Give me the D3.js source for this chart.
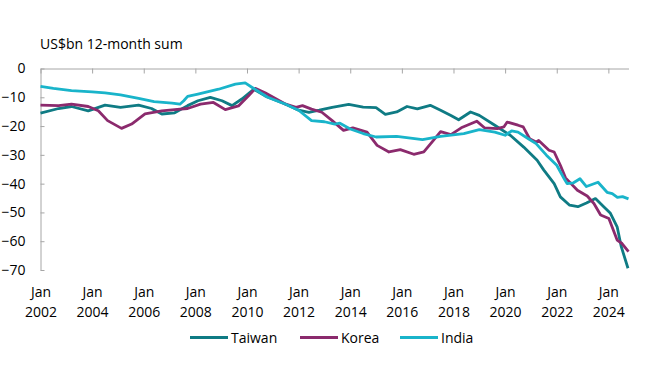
<!DOCTYPE html>
<html>
<head>
<meta charset="utf-8">
<script src="https://cdn.jsdelivr.net/npm/d3@7"></script>
<style>
  body { margin: 0; background: #fff; }
  svg { display: block; font-family: "Open Sans", sans-serif; }
</style>
</head>
<body>
<div id="trade-balance"></div>
<script>
// [decimal year, US$bn 12-month sum]
const taiwan = [
  [2002.0, -15.5], [2002.7, -13.9], [2003.2, -13.2], [2003.85, -14.7], [2004.5, -12.7],
  [2005.1, -13.5], [2005.8, -12.7], [2006.3, -13.9], [2006.7, -15.8], [2007.2, -15.4],
  [2007.7, -12.9], [2008.1, -11.2], [2008.58, -10.0], [2009.03, -11.2], [2009.42, -12.9],
  [2009.8, -10.6], [2010.26, -7.2], [2010.7, -9.5], [2011.5, -12.4], [2012.0, -14.5],
  [2012.4, -15.2], [2012.8, -14.5], [2013.3, -13.5], [2013.94, -12.5], [2014.5, -13.4],
  [2015.0, -13.6], [2015.36, -15.9], [2015.8, -15.1], [2016.2, -13.2], [2016.6, -14.0],
  [2017.1, -12.8], [2017.5, -14.5], [2017.9, -16.3], [2018.2, -17.8], [2018.66, -15.1],
  [2019.0, -16.3], [2019.6, -19.7], [2020.2, -23.2], [2020.72, -27.3], [2021.24, -31.9],
  [2021.5, -35.3], [2021.9, -40.0], [2022.14, -44.6], [2022.5, -47.5], [2022.82, -48.0],
  [2023.15, -46.7], [2023.5, -45.2], [2023.82, -48.0], [2024.08, -50.3], [2024.34, -55.0],
  [2024.5, -61.9], [2024.76, -69.4]
];
const korea = [
  [2002.0, -12.7], [2002.7, -12.9], [2003.2, -12.4], [2003.85, -13.2], [2004.24, -14.7],
  [2004.6, -18.1], [2005.14, -20.8], [2005.53, -19.3], [2006.05, -15.8], [2006.7, -14.7],
  [2007.2, -14.3], [2007.7, -13.9], [2008.2, -12.4], [2008.7, -11.8], [2009.16, -14.3],
  [2009.67, -13.0], [2010.06, -9.5], [2010.32, -6.9], [2010.7, -8.4], [2011.5, -12.4],
  [2011.9, -13.5], [2012.15, -12.9], [2012.5, -14.1], [2012.9, -15.2], [2013.3, -18.1],
  [2013.74, -21.5], [2014.1, -20.6], [2014.65, -22.1], [2015.04, -26.7], [2015.5, -29.0],
  [2015.94, -28.2], [2016.46, -29.8], [2016.85, -29.0], [2017.23, -24.9], [2017.5, -21.9],
  [2017.9, -23.0], [2018.3, -20.6], [2018.9, -18.3], [2019.2, -20.6], [2019.7, -20.9],
  [2019.95, -20.3], [2020.08, -18.6], [2020.5, -19.7], [2020.7, -20.3], [2020.95, -24.4],
  [2021.2, -25.5], [2021.3, -25.0], [2021.7, -28.4], [2021.9, -29.0], [2022.14, -33.6],
  [2022.34, -38.0], [2022.8, -42.3], [2023.18, -44.3], [2023.44, -46.9], [2023.7, -50.9],
  [2024.02, -52.1], [2024.34, -59.6], [2024.53, -60.8], [2024.78, -63.6]
];
const india = [
  [2002.0, -6.2], [2002.5, -6.9], [2003.2, -7.7], [2004.0, -8.1], [2004.5, -8.5],
  [2005.1, -9.2], [2005.8, -10.4], [2006.4, -11.5], [2007.1, -12.0], [2007.4, -12.4],
  [2007.55, -11.2], [2007.7, -9.7], [2008.1, -8.9], [2008.9, -7.2], [2009.55, -5.4],
  [2009.93, -5.0], [2010.2, -6.6], [2010.8, -10.0], [2011.5, -12.4], [2012.0, -14.5],
  [2012.5, -18.1], [2013.0, -18.5], [2013.4, -19.3], [2013.6, -19.0], [2014.0, -21.0],
  [2014.5, -22.6], [2015.0, -23.8], [2015.8, -23.6], [2016.8, -24.7], [2017.5, -23.6],
  [2018.4, -22.6], [2019.0, -21.2], [2019.6, -22.1], [2020.0, -23.2], [2020.25, -21.7],
  [2020.5, -22.1], [2020.9, -24.4], [2021.2, -26.1], [2021.6, -30.1], [2022.0, -33.6],
  [2022.3, -38.5], [2022.4, -40.0], [2022.65, -39.7], [2022.9, -38.3], [2023.15, -41.0],
  [2023.6, -39.5], [2023.95, -43.0], [2024.15, -43.5], [2024.35, -44.8], [2024.55, -44.5],
  [2024.78, -45.3]
];

const seriesNames = ["Taiwan", "Korea", "India"];
const seriesColors = ["#0f7b84", "#8b2a6d", "#19b4ca"];
const yTicks = [0, -10, -20, -30, -40, -50, -60, -70];
const xTicks = [2002, 2004, 2006, 2008, 2010, 2012, 2014, 2016, 2018, 2020, 2022, 2024];
const yLabel = "US$bn 12-month sum";

const width = 655;
const height = 373;
const marginLeft = 40.5;
const marginRight = 26.5;
const marginTop = 68.5;
const marginBottom = 103;

const x = d3.scaleLinear([2002, 2024.78], [marginLeft, width - marginRight]);
const y = d3.scaleLinear([0, -70], [marginTop, height - marginBottom]);

const svg = d3.select("div#trade-balance")
  .append("svg")
  .attr("width", width)
  .attr("height", height)
  .attr("viewBox", [0, 0, width, height]);

// y axis: labels on the left, small ticks pointing into the plot
svg.append("g")
  .attr("transform", `translate(${marginLeft},0)`)
  .call(d3.axisLeft(y).tickValues(yTicks).tickSize(-4).tickSizeOuter(0).tickPadding(15))
  .call(g => g.select(".domain").attr("stroke", "#a6a6a6"))
  .call(g => g.selectAll(".tick line").attr("stroke", "#a6a6a6"))
  .call(g => g.selectAll(".tick text")
    .attr("font-family", "Open Sans, sans-serif")
    .attr("font-size", 14)
    .attr("fill", "#000"));

// x axis sits on the zero line, labels pushed down below the plot
const gx = svg.append("g")
  .attr("transform", `translate(0,${y(0)})`)
  .call(d3.axisBottom(x).tickValues(xTicks).tickSize(5).tickSizeOuter(0).tickFormat(""))
  .call(g => g.select(".domain").attr("stroke", "#a6a6a6"))
  .call(g => g.selectAll(".tick line").attr("stroke", "#a6a6a6"));

const labelDrop = y(-70) - y(0);
gx.selectAll(".tick text").remove();
gx.selectAll(".tick").each(function (d) {
  const t = d3.select(this).append("text")
    .attr("text-anchor", "middle")
    .attr("font-family", "Open Sans, sans-serif")
    .attr("font-size", 14)
    .attr("fill", "#000");
  t.append("tspan").attr("x", 0).attr("y", labelDrop + 27).text("Jan");
  t.append("tspan").attr("x", 0).attr("y", labelDrop + 47).text(d);
});

svg.append("text")
  .attr("x", marginLeft - 0.5)
  .attr("y", 48.5)
  .attr("font-size", 14)
  .attr("fill", "#000")
  .text(yLabel);

// lines
const line = d3.line()
  .x(d => x(d[0]))
  .y(d => y(d[1]));

const allSeries = [taiwan, korea, india];
allSeries.forEach((values, i) => {
  svg.append("path")
    .attr("d", line(values))
    .attr("fill", "none")
    .attr("stroke", seriesColors[i])
    .attr("stroke-width", 2.8)
    .attr("stroke-linejoin", "round");
});

// legend
const legendX = [190, 300, 400];
const legend = svg.append("g").attr("transform", "translate(0,337.5)");
seriesNames.forEach((name, i) => {
  legend.append("line")
    .attr("x1", legendX[i]).attr("x2", legendX[i] + 38)
    .attr("stroke", seriesColors[i])
    .attr("stroke-width", 3);
  legend.append("text")
    .attr("x", legendX[i] + 41)
    .attr("dy", "0.36em")
    .attr("font-size", 14)
    .attr("fill", "#000")
    .text(name);
});
</script>
</body>
</html>
